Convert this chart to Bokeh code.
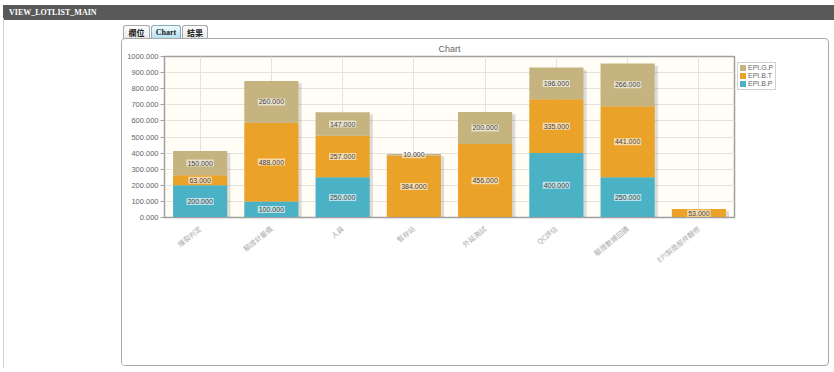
from bokeh.plotting import figure
from bokeh.models import (ColumnDataSource, Div, Range1d, FixedTicker, PrintfTickFormatter)
from bokeh.layouts import column, row
from bokeh.transform import dodge
from bokeh.core.properties import value
from bokeh.embed import file_html
from bokeh.resources import INLINE

# ---- data ----
categories = ["爆裂判定", "驗證計量儀", "人員", "暫存站", "外延測試", "QC評估", "驗證數據回饋", "EPI製造部件翻修"]
series_names = ["EPI.B.P", "EPI.B.T", "EPI.G.P"]
epi_b_p = [200, 100, 250, 0, 0, 400, 250, 0]
epi_b_t = [63, 488, 257, 384, 456, 335, 441, 53]
epi_g_p = [150, 260, 147, 10, 200, 196, 266, 0]
series_colors = ["#4bb2c5", "#eaa228", "#c5b47f"]
y_ticks = [0, 100, 200, 300, 400, 500, 600, 700, 800, 900, 1000]

series_values = [epi_b_p, epi_b_t, epi_g_p]
src = ColumnDataSource(dict(cat=categories, **{n: v for n, v in zip(series_names, series_values)}))

totals = [a + b + c for a, b, c in zip(epi_b_p, epi_b_t, epi_g_p)]
shadow_src = ColumnDataSource(dict(cat=categories, top=[t - 14 for t in totals]))

# value labels (segment centers)
lx, ly, lt = [], [], []
for i, c in enumerate(categories):
    base = 0
    for vals in series_values:
        v = vals[i]
        if v > 0:
            lx.append(c)
            ly.append(base + v / 2)
            lt.append(f"{v:.3f}")
        base += v
lbl_src = ColumnDataSource(dict(x=lx, y=ly, t=lt))

FONT = "Liberation Sans"

p = figure(x_range=categories, y_range=Range1d(0, 1000),
           width=615, height=328,
           output_backend="svg", toolbar_location=None, title="Chart",
           min_border_left=42, min_border_right=3, min_border_top=17, min_border_bottom=148,
           margin=0)

p.title.align = "center"
p.title.text_font = FONT
p.title.text_font_size = "9px"
p.title.text_font_style = "normal"
p.title.text_color = "#666666"
p.title.offset = 0
p.title.standoff = 5

p.background_fill_color = "#fffdf6"
p.border_fill_color = "white"
p.outline_line_color = "#a0a0a0"
p.outline_line_width = 1.5

p.xgrid.grid_line_color = "#e6e3da"
p.ygrid.grid_line_color = "#e6e3da"
p.ygrid.ticker = FixedTicker(ticks=y_ticks)

p.yaxis.ticker = FixedTicker(ticks=y_ticks)
p.yaxis.formatter = PrintfTickFormatter(format="%.3f")
p.yaxis.major_label_text_font = FONT
p.yaxis.major_label_text_font_size = "7.5px"
p.yaxis.major_label_text_color = "#666666"
p.yaxis.major_label_standoff = 2
p.yaxis.major_tick_out = 4
p.yaxis.major_tick_in = 0
p.yaxis.minor_tick_line_color = None
p.yaxis.axis_line_color = "#a0a0a0"
p.yaxis.major_tick_line_color = "#a0a0a0"

p.xaxis.major_label_orientation = 0.68
p.xaxis.major_label_text_font = "Noto Sans CJK TC"
p.xaxis.major_label_text_font_size = "7px"
p.xaxis.major_label_text_color = "#aaaaaa"
p.xaxis.major_tick_line_color = None
p.xaxis.axis_line_color = "#a0a0a0"
p.xaxis.major_label_standoff = 4

# bar shadows
p.vbar(x=dodge("cat", 0.045, range=p.x_range), top="top", bottom=0, width=0.76,
       source=shadow_src, fill_color="black", fill_alpha=0.13, line_color=None)

renderers = p.vbar_stack(series_names, x="cat", width=0.76, color=series_colors,
                         line_color=None, source=src)

p.text(x="x", y="y", text="t", source=lbl_src, text_align="center", text_baseline="middle",
       text_font=value(FONT), text_font_size="7px", text_color="#444444",
       background_fill_color="white", background_fill_alpha=0.6, padding=1)

# legend (HTML, placed right of the plot frame), reversed order like the reference
legend_rows = "".join(
    f'<div style="height:8px;line-height:8px;white-space:nowrap;">'
    f'<span style="display:inline-block;width:6px;height:6px;background:{series_colors[i]};'
    f'margin-right:2px;vertical-align:-0.5px;"></span>{series_names[i]}</div>'
    for i in (2, 1, 0))
legend_div = Div(text=(
    '<div style="box-sizing:border-box;width:39px;height:28px;border:1px solid #d0d0d0;'
    'padding:1px 1px 1px 2px;background:#fff;font-family:\'Liberation Sans\',sans-serif;'
    f'font-size:7px;color:#666;">{legend_rows}</div>'),
    width=39, height=28, margin=(23, 0, 0, 0))

panel = row(p, legend_div, width=708, height=328, margin=(0, 0, 0, 117),
            styles={"border": "1px solid #a8a8a8", "border-radius": "4px", "background": "#fff"})

header = Div(text='<div style="background:#595959;color:#ffffff;font-family:\'Liberation Serif\',serif;'
                  'font-weight:bold;font-size:8px;height:15px;line-height:15px;padding-left:6px;'
                  'box-sizing:border-box;width:831px;">VIEW_LOTLIST_MAIN</div>',
             width=831, height=15, margin=(3, 0, 0, 3))

left_line = Div(text="", width=1, height=350, margin=(0, 0, 0, 3),
                styles={"background-color": "#d0d0d0"})

tab_base = ("display:inline-block;box-sizing:border-box;height:15px;line-height:14px;text-align:center;"
            "border:1px solid #a8a8a8;border-bottom:none;border-radius:3px 3px 0 0;margin-right:1px;"
            "font-size:8px;font-weight:bold;color:#222;vertical-align:bottom;")
tabs = Div(text=(
    '<div style="white-space:nowrap;">'
    f'<span style="{tab_base}width:27px;background:linear-gradient(#ffffff,#e6e6e6);font-family:\'Noto Sans CJK TC\';">欄位</span>'
    f'<span style="{tab_base}width:30px;background:linear-gradient(#f2fbfe,#a9dcef);font-family:\'Liberation Serif\',serif;border-color:#8ab;">Chart</span>'
    f'<span style="{tab_base}width:26px;background:linear-gradient(#ffffff,#e6e6e6);font-family:\'Noto Sans CJK TC\';">結果</span>'
    '</div>'), width=90, height=15, margin=(5, 0, 0, 119))

layout = column(header, row(left_line, column(tabs, panel)))

open("out.html", "w").write(file_html(layout, INLINE))
